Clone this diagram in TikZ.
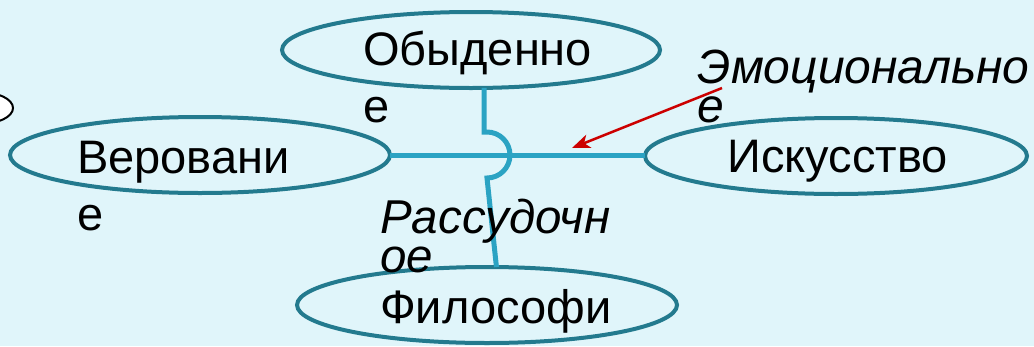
\documentclass[tikz,border=0pt]{standalone}
\usepackage{fontspec}
\setmainfont{Liberation Sans}
\usetikzlibrary{shapes.geometric,arrows.meta}
\definecolor{bgc}{HTML}{E0F5FA}
\definecolor{ringc}{HTML}{237A8E}
\definecolor{linkc}{HTML}{2BA3C3}
\definecolor{arrc}{HTML}{CC0000}
\tikzset{
  oval/.style={ellipse, draw=ringc, line width=4pt, inner sep=0pt, outer sep=0pt,
    minimum width=#1, minimum height=76pt},
  oval/.default=380pt,
  blocktext/.style={anchor=base west, inner sep=0pt, text width=420pt, align=left,
    font=\fontsize{47}{57}\selectfont},
  sidetext/.style={anchor=base west, inner sep=0pt, text width=420pt, align=left,
    font=\fontsize{47.5}{39}\selectfont\itshape},
  link/.style={draw=linkc, line width=5pt},
  pointer/.style={draw=arrc, line width=2.5pt, -{Stealth[length=18pt,width=14pt,inset=5pt]}}
}
\begin{document}
\begin{tikzpicture}[x=1pt,y=-1pt]
\useasboundingbox[fill=bgc] (0,0) rectangle (1034,346);
% ellipses
\node[ellipse, draw=black, fill=white, line width=2pt, minimum width=66pt, minimum height=32pt] (stub) at (-20,108) {};
\node[oval=378pt] (top) at (471,50) {};
\node[oval] (left) at (200,155) {};
\node[oval=382pt] (right) at (836,156) {};
\node[oval] (bot) at (487,305) {};
% connectors
\coordinate (hopA) at (487,132);
\draw[link] (left.east) -- (left.east -| right.west);
\draw[link] (top.-71) |- (hopA) arc[start angle=90, end angle=-90, radius=23pt] -- (bot.76);
% texts
\node[blocktext] (tTop) at (363,65) {Обыденно\\е};
\node[blocktext] (tLeft) at (77,173) {Веровани\\е};
\node[blocktext] (tRight) at (727,172) {Искусство};
\node[blocktext] (tBot) at (380,323) {Философи};
\node[sidetext, font=\fontsize{48}{39}\selectfont\itshape] (tEmo) at (697,83) {Эмоционально\\е};
\node[sidetext] (tRas) at (380,233) {Рассудочн\\ое};
% red arrow
\coordinate (arrS) at (722,88);
\coordinate (arrE) at (572,148);
\draw[pointer] (arrS) -- (arrE);
\end{tikzpicture}
\end{document}
